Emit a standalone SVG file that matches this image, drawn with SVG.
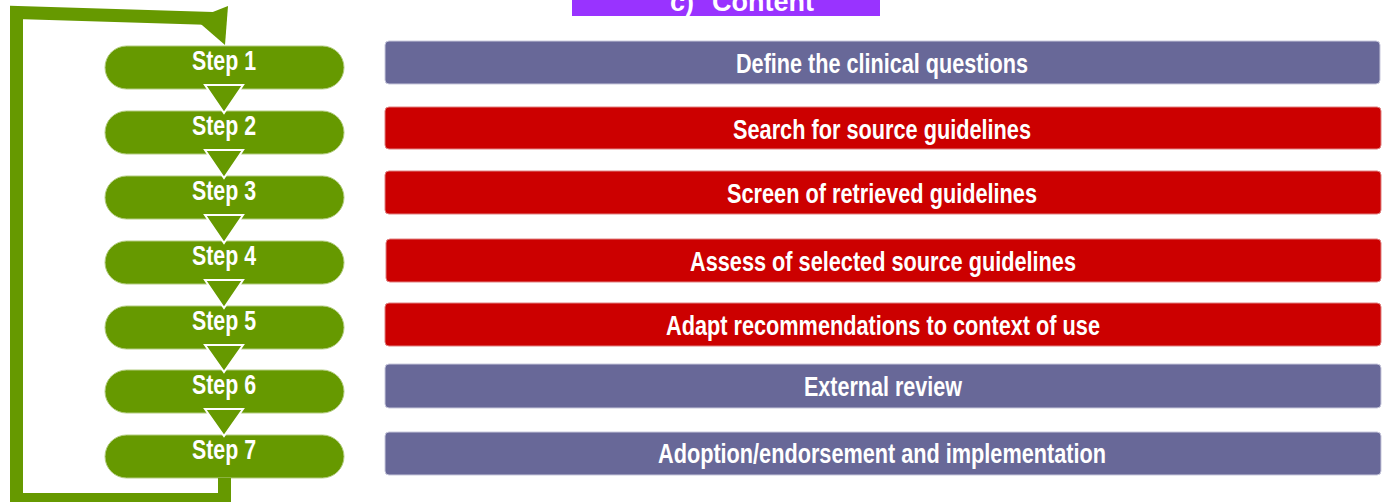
<svg xmlns="http://www.w3.org/2000/svg" width="1386" height="502" viewBox="0 0 1386 502">
<style>
.pill{fill:#669900;stroke:#b3cc80;stroke-width:1}
.tri{fill:#669900;stroke:#ffffff;stroke-width:2}
.slate{fill:#686898;stroke:#c8c8dc;stroke-width:1}
.red{fill:#cc0000;stroke:#e08080;stroke-width:1}
.st{font-family:"Liberation Sans Narrow","Liberation Sans",Arial,sans-serif;font-size:27px;font-weight:bold;fill:#ffffff;text-anchor:middle}
.bt{font-family:"Liberation Sans Narrow","Liberation Sans",Arial,sans-serif;font-size:28.5px;font-weight:bold;fill:#ffffff;text-anchor:middle}
.ht{font-family:"Liberation Sans Narrow","Liberation Sans",Arial,sans-serif;font-size:27px;font-weight:bold;fill:#ffffff}
.loop{fill:none;stroke:#669900;stroke-width:13;stroke-linejoin:miter}
</style>
<rect x="572" y="0" width="308" height="16" fill="#9933ff"/>
<text class="ht" x="670" y="11">c)<tspan x="712">Content</tspan></text>
<g id="step1"><rect class="pill" x="105" y="46" width="239" height="43" rx="21.5"/><text class="st" x="224" y="70" textLength="64" lengthAdjust="spacingAndGlyphs">Step 1</text></g>
<g id="step2"><rect class="pill" x="105" y="111" width="239" height="43" rx="21.5"/><text class="st" x="224" y="135" textLength="64" lengthAdjust="spacingAndGlyphs">Step 2</text></g>
<g id="step3"><rect class="pill" x="105" y="176" width="239" height="43" rx="21.5"/><text class="st" x="224" y="200" textLength="64" lengthAdjust="spacingAndGlyphs">Step 3</text></g>
<g id="step4"><rect class="pill" x="105" y="241" width="239" height="43" rx="21.5"/><text class="st" x="224" y="265" textLength="64" lengthAdjust="spacingAndGlyphs">Step 4</text></g>
<g id="step5"><rect class="pill" x="105" y="306" width="239" height="43" rx="21.5"/><text class="st" x="224" y="330" textLength="64" lengthAdjust="spacingAndGlyphs">Step 5</text></g>
<g id="step6"><rect class="pill" x="105" y="370" width="239" height="43" rx="21.5"/><text class="st" x="224" y="394" textLength="64" lengthAdjust="spacingAndGlyphs">Step 6</text></g>
<g id="step7"><rect class="pill" x="105" y="435" width="239" height="43" rx="21.5"/><text class="st" x="224" y="459" textLength="64" lengthAdjust="spacingAndGlyphs">Step 7</text></g>
<g id="box1"><rect class="slate" x="385" y="41" width="995" height="43" rx="4"/><text class="bt" x="882" y="73" textLength="292" lengthAdjust="spacingAndGlyphs">Define the clinical questions</text></g>
<g id="box2"><rect class="red" x="385" y="107" width="996" height="42" rx="4"/><text class="bt" x="882" y="139" textLength="298" lengthAdjust="spacingAndGlyphs">Search for source guidelines</text></g>
<g id="box3"><rect class="red" x="385" y="171" width="996" height="43" rx="4"/><text class="bt" x="882" y="203" textLength="310" lengthAdjust="spacingAndGlyphs">Screen of retrieved guidelines</text></g>
<g id="box4"><rect class="red" x="386" y="239" width="995" height="43" rx="4"/><text class="bt" x="883" y="271" textLength="386" lengthAdjust="spacingAndGlyphs">Assess of selected source guidelines</text></g>
<g id="box5"><rect class="red" x="385" y="303" width="996" height="43" rx="4"/><text class="bt" x="883" y="335" textLength="434" lengthAdjust="spacingAndGlyphs">Adapt recommendations to context of use</text></g>
<g id="box6"><rect class="slate" x="385" y="364" width="996" height="44" rx="4"/><text class="bt" x="883" y="396" textLength="158" lengthAdjust="spacingAndGlyphs">External review</text></g>
<g id="box7"><rect class="slate" x="385" y="432" width="996" height="43" rx="4"/><text class="bt" x="882" y="463" textLength="448" lengthAdjust="spacingAndGlyphs">Adoption/endorsement and implementation</text></g>
<g id="connectors">
<path class="loop" d="M224.5 478 V499.5 H16.5 V12.5 L213 18.5"/>
<polygon points="228,6 225,45 195,19" fill="#669900"/>
<polygon class="tri" points="205,85 243,85 224,113"/>
<polygon class="tri" points="205,150 243,150 224,178"/>
<polygon class="tri" points="205,215 243,215 224,243"/>
<polygon class="tri" points="205,280 243,280 224,308"/>
<polygon class="tri" points="205,345 243,345 224,372"/>
<polygon class="tri" points="205,409 243,409 224,436"/>
</g>
</svg>
